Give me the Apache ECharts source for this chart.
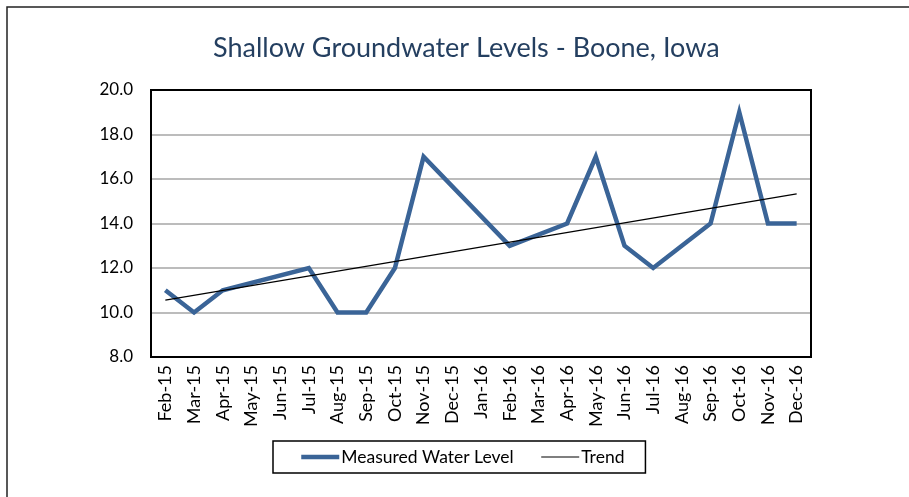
<!DOCTYPE html>
<html>
<head>
<meta charset="utf-8">
<script src="https://cdn.jsdelivr.net/npm/echarts@6/dist/echarts.min.js"></script>
<style>
html,body{margin:0;padding:0;background:#fff;overflow:hidden;}
#chart{width:909px;height:497px;}
</style>
</head>
<body>
<div id="chart"></div>
<script>
const categories = ['Feb-15','Mar-15','Apr-15','May-15','Jun-15','Jul-15','Aug-15','Sep-15','Oct-15','Nov-15','Dec-15','Jan-16','Feb-16','Mar-16','Apr-16','May-16','Jun-16','Jul-16','Aug-16','Sep-16','Oct-16','Nov-16','Dec-16'];
const measured = [11, 10, 11, null, null, 12, 10, 10, 12, 17, null, null, 13, null, 14, 17, 13, 12, null, 14, 19, 14, 14];
const trendStart = 10.56;
const trendEnd = 15.33;
const yTicks = { min: 8, max: 20, interval: 2 };

const trend = categories.map((c, i) => i === 0 ? trendStart : (i === categories.length - 1 ? trendEnd : null));

const FONT = 'Lato';
const chart = echarts.init(document.getElementById('chart'));
chart.setOption({
  animation: false,
  textStyle: { fontFamily: FONT },
  title: {
    text: 'Shallow Groundwater Levels - Boone, Iowa',
    left: 208,
    top: 30,
    textStyle: { fontFamily: FONT, fontSize: 27, fontWeight: 'normal', color: '#243F60' }
  },
  graphic: [
    { type: 'polyline', shape: { points: [[7, 600], [7, 7], [1000, 7]] }, style: { fill: 'none', stroke: '#222', lineWidth: 1.5 }, silent: true },
    { type: 'rect', shape: { x: 151, y: 90, width: 660, height: 267 }, style: { fill: 'none', stroke: '#000', lineWidth: 2 }, z: 10, silent: true }
  ],
  grid: { left: 151, top: 90, right: 98, bottom: 140, containLabel: false },
  legend: {
    left: 273,
    top: 441,
    padding: [7, 21, 7, 26],
    itemGap: 27,
    itemWidth: 38,
    itemHeight: 18,
    borderColor: '#000',
    borderWidth: 1.5,
    itemStyle: { opacity: 0 },
    textStyle: { fontFamily: FONT, fontSize: 17.5, color: '#000', padding: [0, 0, 0, -3] },
    data: [
      { name: 'Measured Water Level', lineStyle: { width: 4.5, color: '#3A6497' } },
      { name: 'Trend', lineStyle: { width: 1.2, color: '#000' } }
    ]
  },
  xAxis: {
    type: 'category',
    data: categories,
    boundaryGap: true,
    axisLine: { show: true, lineStyle: { color: '#777', width: 2 } },
    axisTick: { show: false },
    axisLabel: { interval: 0, rotate: 90, margin: 8, fontFamily: FONT, fontSize: 18, color: '#000' },
    splitLine: { show: false }
  },
  yAxis: {
    type: 'value',
    min: yTicks.min,
    max: yTicks.max,
    interval: yTicks.interval,
    axisLine: { show: false },
    axisTick: { show: false },
    axisLabel: { margin: 18, fontFamily: FONT, fontSize: 17, color: '#000', formatter: v => v.toFixed(1) },
    splitLine: { lineStyle: { color: '#a6a6a6', width: 1.5 } }
  },
  series: [
    {
      name: 'Measured Water Level',
      type: 'line',
      data: measured,
      connectNulls: true,
      symbol: 'none',
      lineStyle: { color: '#3A6497', width: 4.5, join: 'miter' },
      itemStyle: { color: '#3A6497' },
      z: 3
    },
    {
      name: 'Trend',
      type: 'line',
      data: trend,
      connectNulls: true,
      symbol: 'none',
      lineStyle: { color: '#000', width: 1.2 },
      itemStyle: { color: '#000' },
      z: 4
    }
  ]
});
</script>
</body>
</html>
